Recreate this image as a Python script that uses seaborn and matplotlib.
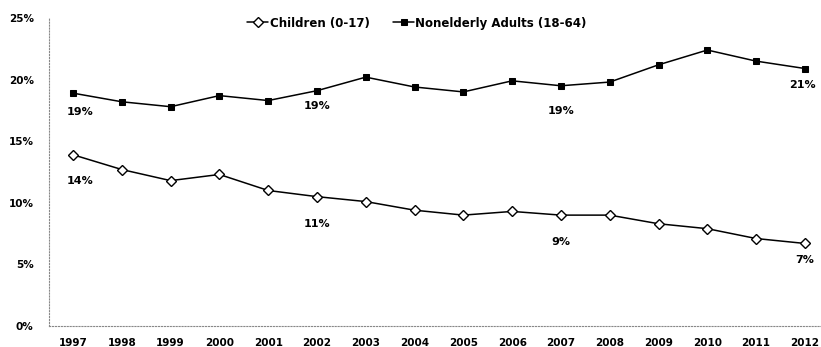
import pandas as pd
import matplotlib.pyplot as plt
import seaborn as sns

sns.set_style("white")
plt.rcParams['font.family'] = ['DejaVu Sans']
plt.rcParams['text.color'] = 'black'
plt.rcParams['xtick.color'] = 'black'
plt.rcParams['ytick.color'] = 'black'

years = list(range(1997, 2013))
children = [13.9, 12.7, 11.8, 12.3, 11.0, 10.5, 10.1, 9.4, 9.0, 9.3, 9.0, 9.0, 8.3, 7.9, 7.1, 6.7]
adults = [18.9, 18.2, 17.8, 18.7, 18.3, 19.1, 20.2, 19.4, 19.0, 19.9, 19.5, 19.8, 21.2, 22.4, 21.5, 20.9]
series_names = ["Children (0-17)", "Nonelderly Adults (18-64)"]

# labelled points: (series index, year, text, x offset, y offset below in points)
point_labels = [
    (0, 1997, "14%", 5, 18.7), (0, 2002, "11%", 0, 19.4), (0, 2007, "9%", 0, 19.4), (0, 2012, "7%", 0, 12.2),
    (1, 1997, "19%", 5, 13.7), (1, 2002, "19%", 0, 10.8), (1, 2007, "19%", 0, 18), (1, 2012, "21%", -2, 12.2),
]

df = pd.DataFrame({"Year": years, series_names[0]: children, series_names[1]: adults})

fig = plt.figure(figsize=(8.21, 3.47), dpi=100)
ax = fig.add_axes([49 / 821, 21 / 347, 772 / 821, 308 / 347])

sns.lineplot(data=df, x="Year", y=series_names[0], ax=ax, color="black", linewidth=1.1,
             marker="D", markersize=5.5, markerfacecolor="white", markeredgecolor="black",
             markeredgewidth=1.0, label=series_names[0])
sns.lineplot(data=df, x="Year", y=series_names[1], ax=ax, color="black", linewidth=1.1,
             marker="s", markersize=5, markerfacecolor="black", markeredgecolor="black",
             label=series_names[1])

values = [children, adults]
for s, yr, txt, dx, off in point_labels:
    v = values[s][years.index(yr)]
    ax.annotate(txt, (yr, v), xytext=(dx, -off), textcoords="offset points",
                ha="center", va="center", fontsize=8, fontweight="bold")

ax.set_xlim(1996.508, 2012.33)
ax.set_ylim(0, 25)
ax.set_xticks(years)
ax.set_xticklabels([str(y) for y in years], fontsize=7.5, fontweight="bold")
ax.set_yticks([0, 5, 10, 15, 20, 25])
ax.set_yticklabels([f"{v}%" for v in [0, 5, 10, 15, 20, 25]], fontsize=7.5, fontweight="bold")
ax.tick_params(axis="y", length=2, pad=9, color="#999999", labelcolor="black")
ax.tick_params(axis="x", length=0, pad=9, labelcolor="black")
ax.set_xlabel("")
ax.set_ylabel("")

for side in ["top", "right"]:
    ax.spines[side].set_visible(False)
for side in ["left", "bottom"]:
    ax.spines[side].set_linestyle(":")
    ax.spines[side].set_color("#888888")
    ax.spines[side].set_linewidth(0.8)

leg = ax.legend(loc="center", bbox_to_anchor=(417 / 821, 1 - 23 / 347),
                bbox_transform=fig.transFigure, ncol=2, frameon=False,
                prop={"size": 8.5, "weight": "bold"}, handlelength=1.8,
                handletextpad=0.1, columnspacing=2.0)
for t in leg.get_texts():
    t.set_color("black")

fig.savefig("out.png", dpi=100)
